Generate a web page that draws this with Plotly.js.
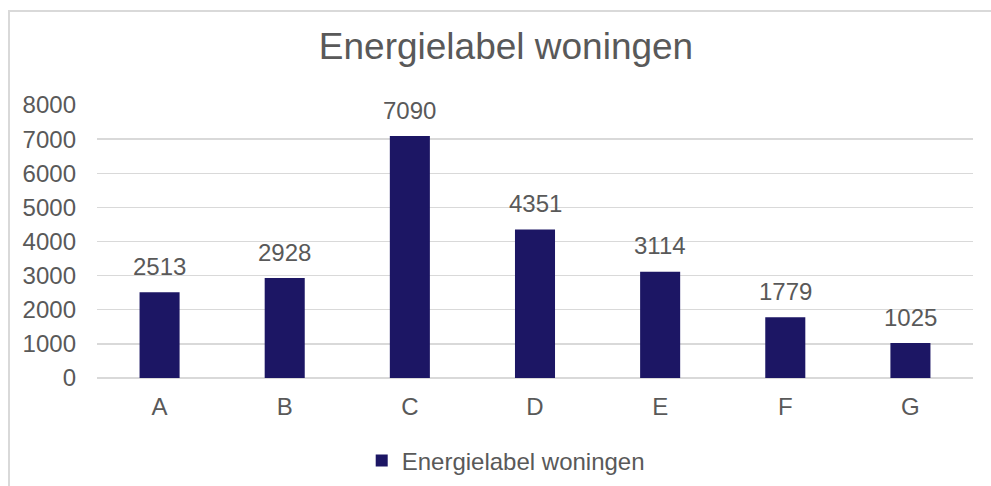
<!DOCTYPE html>
<html>
<head>
<meta charset="utf-8">
<script src="https://cdn.plot.ly/plotly-3.0.1.min.js"></script>
<style>
  html, body { margin: 0; padding: 0; background: #ffffff; }
  #wrap { position: relative; width: 991px; height: 486px; overflow: hidden; }
  #chart { width: 991px; height: 486px; }
  #frame { position: absolute; left: 8px; top: 10px; width: 1000px; height: 500px;
           border-left: 2px solid #d9d9d9; border-top: 2px solid #d9d9d9; pointer-events: none; }
</style>
</head>
<body>
<div id="wrap">
  <div id="chart"></div>
  <div id="frame"></div>
</div>
<script>
const categories = ["A", "B", "C", "D", "E", "F", "G"];
const values = [2513, 2928, 7090, 4351, 3114, 1779, 1025];
const seriesName = "Energielabel woningen";
const chartTitle = "Energielabel woningen";
const yTicks = [0, 1000, 2000, 3000, 4000, 5000, 6000, 7000, 8000];

const textColor = "#595959";
const barColor = "#1c1664";
const gridColor = "#d9d9d9";
const fontFamily = "Liberation Sans, Arial, sans-serif";

const trace = {
  type: "bar",
  x: categories,
  y: values,
  name: seriesName,
  marker: { color: barColor },
  hoverinfo: "none",
  showlegend: true
};

const annotations = categories.map((c, i) => ({
  x: c, y: values[i], xref: "x", yref: "y",
  text: String(values[i]),
  showarrow: false,
  yanchor: "middle",
  yshift: 26,
  font: { family: fontFamily, size: 24, color: textColor }
}));

const layout = {
  width: 991, height: 486,
  margin: { l: 97, r: 18, t: 105, b: 108, pad: 0, autoexpand: false },
  paper_bgcolor: "#ffffff",
  plot_bgcolor: "#ffffff",
  font: { family: fontFamily, color: textColor, size: 24 },
  title: {
    text: chartTitle,
    font: { family: fontFamily, size: 37, color: textColor },
    xref: "container", x: 0.5106, xanchor: "center",
    yref: "container", y: 0.905, yanchor: "middle"
  },
  bargap: 0.68,
  xaxis: {
    type: "category",
    showgrid: false,
    showline: false,
    zeroline: false,
    ticks: "",
    ticklabelstandoff: 12,
    automargin: false,
    tickfont: { family: fontFamily, size: 24, color: textColor }
  },
  yaxis: {
    range: [0, 8000],
    tickvals: yTicks,
    ticktext: yTicks.map(String),
    showgrid: true,
    gridcolor: gridColor,
    gridwidth: 1.3,
    zeroline: true,
    zerolinecolor: gridColor,
    zerolinewidth: 1.3,
    showline: false,
    ticks: "",
    ticklabelstandoff: 20,
    automargin: false,
    tickfont: { family: fontFamily, size: 24, color: textColor },
    fixedrange: true
  },
  showlegend: true,
  legend: {
    orientation: "h",
    xref: "container", x: 0.5103, xanchor: "center",
    yref: "container", y: 0.0514, yanchor: "middle",
    font: { family: fontFamily, size: 24, color: textColor },
    bgcolor: "rgba(0,0,0,0)"
  },
  annotations: annotations
};

Plotly.newPlot("chart", [trace], layout, { staticPlot: true, displayModeBar: false });
</script>
</body>
</html>
